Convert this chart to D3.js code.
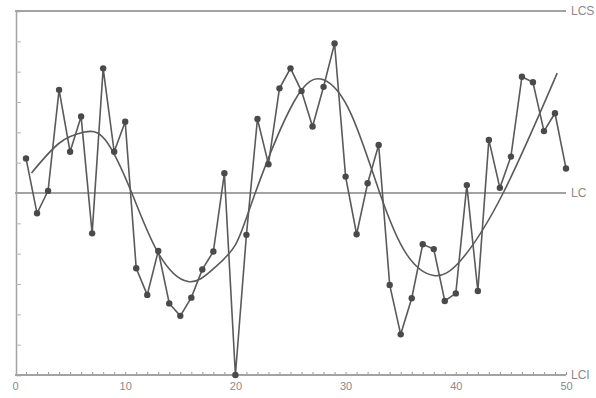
<!DOCTYPE html>
<html>
<head>
<meta charset="utf-8">
<script src="https://cdn.jsdelivr.net/npm/d3@7/dist/d3.min.js"></script>
<style>
  html, body { margin: 0; padding: 0; background: #ffffff; }
  svg { display: block; }
  text { font-family: "Liberation Sans", Arial, sans-serif; }
</style>
</head>
<body>
<svg id="chart" width="596" height="398"></svg>
<script>
// Observations 1..50 of the monitored quantity (units of sigma around LC)
const sampleIndex = d3.range(1, 51);
const sampleValues = [
  1.14, -0.67, 0.07, 3.40, 1.36, 2.52, -1.33, 4.11, 1.36, 2.35,
  -2.48, -3.36, -1.91, -3.64, -4.05, -3.45, -2.52, -1.93, 0.65, -6.00,
  -1.38, 2.44, 0.95, 3.45, 4.11, 3.36, 2.19, 3.50, 4.93, 0.54,
  -1.36, 0.32, 1.58, -3.03, -4.66, -3.47, -1.69, -1.85, -3.56, -3.31,
  0.26, -3.23, 1.75, 0.17, 1.20, 3.83, 3.65, 2.04, 2.63, 0.81
];

// Smoothed trend through the observations
const trendX = [1.5, 4, 6.2, 8.2, 10.6, 13, 15.7, 18, 20, 21.8, 25.3, 28, 30.5, 33.1, 35.5, 38, 40.5, 44.3, 49.2];
const trendValues = [0.66, 1.64, 2.0, 1.75, 0.0, -1.98, -2.92, -2.5, -1.71, 0.0, 3.0, 3.73, 2.6, 0.0, -2.0, -2.72, -2.2, 0.0, 3.95];

// Control limits
const limitNames = ["LCS", "LC", "LCI"];
const limitValues = [6, 0, -6];

// Axis ticks
const xTickLabels = [0, 10, 20, 30, 40, 50];
const yTickValues = d3.range(-5, 6);

const svg = d3.select("#chart");
const x = d3.scaleLinear().domain([0, 50]).range([15, 566]);
const y = d3.scaleLinear().domain([-6, 6]).range([375, 11]);

const gridColor = "#a3a3a3";
const inkColor = "#5a5a5a";

// Left axis with inward ticks
const leftAxis = svg.append("g")
  .attr("transform", `translate(${x(0) + 1},0)`)
  .call(d3.axisRight(y).tickValues(yTickValues).tickSize(5).tickFormat(""));
leftAxis.select(".domain").attr("stroke", gridColor).attr("stroke-width", 1.5);
leftAxis.selectAll(".tick line").attr("stroke", "#b5b5b5").attr("stroke-width", 1);

// Bottom axis: minor ticks every unit
const minorAxis = svg.append("g")
  .attr("transform", `translate(0,${y(-6)})`)
  .call(d3.axisTop(x).tickValues(d3.range(1, 51)).tickSize(3).tickFormat(""));
minorAxis.select(".domain").remove();
minorAxis.selectAll(".tick line").attr("stroke", "#999").attr("stroke-width", 1);

const labelAxis = svg.append("g")
  .attr("transform", `translate(0,${y(-6)})`)
  .call(d3.axisBottom(x).tickValues(xTickLabels).tickSize(0).tickPadding(7));
labelAxis.select(".domain").remove();
labelAxis.selectAll("text")
  .attr("fill", "#8a8a8a")
  .attr("font-size", 11);

// Control limit lines and their labels
svg.append("g").selectAll("line")
  .data(limitValues)
  .join("line")
  .attr("x1", x(0)).attr("x2", x(50))
  .attr("y1", d => y(d)).attr("y2", d => y(d))
  .attr("stroke", gridColor)
  .attr("stroke-width", 2);

svg.append("g").selectAll("text")
  .data(limitNames)
  .join("text")
  .attr("x", x(50) + 5)
  .attr("y", (d, i) => y(limitValues[i]))
  .attr("dy", "0.36em")
  .attr("font-size", 12)
  .attr("fill", "#8a8a8a")
  .text(d => d);

// Trend curve
const trendLine = d3.line()
  .x((d, i) => x(trendX[i]))
  .y(d => y(d))
  .curve(d3.curveNatural);
svg.append("path")
  .datum(trendValues)
  .attr("d", trendLine)
  .attr("fill", "none")
  .attr("stroke", inkColor)
  .attr("stroke-width", 1.6);

// Observation polyline
const obsLine = d3.line()
  .x((d, i) => x(sampleIndex[i]))
  .y(d => y(d));
svg.append("path")
  .datum(sampleValues)
  .attr("d", obsLine)
  .attr("fill", "none")
  .attr("stroke", inkColor)
  .attr("stroke-width", 1.6);

// Observation markers
svg.append("g").selectAll("circle")
  .data(sampleValues)
  .join("circle")
  .attr("cx", (d, i) => x(sampleIndex[i]))
  .attr("cy", d => y(d))
  .attr("r", 3.2)
  .attr("fill", "#4a4a4a");
</script>
</body>
</html>
